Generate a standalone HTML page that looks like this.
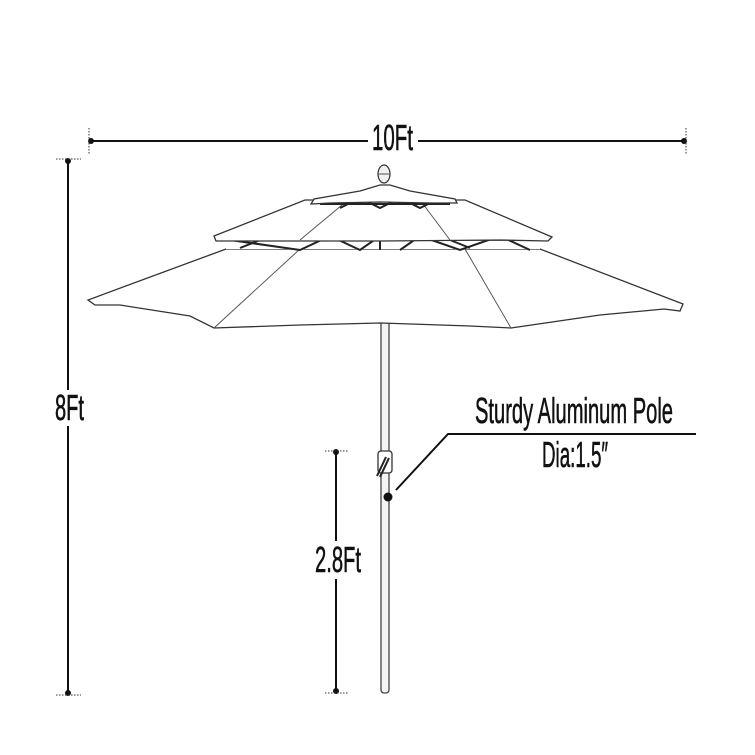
<!DOCTYPE html>
<html><head><meta charset="utf-8"><style>
html,body{margin:0;padding:0;background:#fff;}
svg{display:block;}
text{font-family:"Liberation Sans Narrow","Liberation Sans",sans-serif;fill:#111;stroke:#111;stroke-width:0.6;}
</style></head><body>
<svg width="755" height="755" viewBox="0 0 755 755" xmlns="http://www.w3.org/2000/svg">
<rect width="755" height="755" fill="#fff"/>
<!-- 10Ft dimension -->
<line x1="90" y1="141" x2="368" y2="141" stroke="#111" stroke-width="2"/>
<line x1="418" y1="141" x2="685" y2="141" stroke="#111" stroke-width="2"/>
<circle cx="91" cy="141" r="3" fill="#111"/><circle cx="684" cy="141" r="3" fill="#111"/>
<line x1="89" y1="128" x2="89" y2="154" stroke="#333" stroke-dasharray="1.5 1.5"/>
<line x1="686" y1="128" x2="686" y2="154" stroke="#333" stroke-dasharray="1.5 1.5"/>
<text x="372" y="150" font-size="36" textLength="41" lengthAdjust="spacingAndGlyphs">10Ft</text>
<!-- 8Ft dimension -->
<line x1="68" y1="160" x2="68" y2="390" stroke="#111" stroke-width="2"/>
<line x1="68" y1="426" x2="68" y2="694" stroke="#111" stroke-width="2"/>
<circle cx="68" cy="161" r="3" fill="#111"/><circle cx="68" cy="693" r="3" fill="#111"/>
<line x1="56" y1="159" x2="81" y2="159" stroke="#333" stroke-dasharray="1.5 1.5"/>
<line x1="56" y1="695" x2="81" y2="695" stroke="#333" stroke-dasharray="1.5 1.5"/>
<text x="55" y="420" font-size="36" textLength="29" lengthAdjust="spacingAndGlyphs">8Ft</text>
<!-- 2.8Ft dimension -->
<line x1="336" y1="451" x2="336" y2="541" stroke="#111" stroke-width="2"/>
<line x1="336" y1="579" x2="336" y2="692" stroke="#111" stroke-width="2"/>
<circle cx="336" cy="452" r="3" fill="#111"/><circle cx="336" cy="691" r="3" fill="#111"/>
<line x1="325" y1="451" x2="348" y2="451" stroke="#333" stroke-dasharray="1.5 1.5"/>
<line x1="325" y1="693" x2="348" y2="693" stroke="#333" stroke-dasharray="1.5 1.5"/>
<text x="315" y="572" font-size="36" textLength="46" lengthAdjust="spacingAndGlyphs">2.8Ft</text>
<!-- pole -->
<rect x="381" y="318" width="8" height="375" rx="3" fill="#f4f4f4" stroke="#444" stroke-width="1.3"/>
<rect x="378" y="451" width="14" height="22" rx="3" fill="#fff" stroke="#333" stroke-width="1.3"/>
<path d="M386 457 L377 476 M389 458 L380 477" stroke="#222" stroke-width="2"/>
<circle cx="388" cy="497" r="4.5" fill="#111"/>
<polyline points="396,490 448,434 696,434" fill="none" stroke="#111" stroke-width="2"/>
<text x="475" y="423" font-size="36" textLength="198" lengthAdjust="spacingAndGlyphs">Sturdy Aluminum Pole</text>
<text x="542" y="467" font-size="36" textLength="66" lengthAdjust="spacingAndGlyphs">Dia:1.5″</text>
<!-- canopy big -->
<path d="M226 249 L540 249 L683 304 L680 311 L664 309 L600 315 L511 328 L470 326 L380 323 L300 325 L214 328 L190 316 L120 305 L95 305 L88 300 Z" fill="#fff" stroke="#333" stroke-width="1.3"/>
<path d="M300 249 L214 328 M465 249 L511 328" stroke="#555" stroke-width="1"/>
<!-- struts between tier 2 and big -->
<rect x="226" y="236" width="314" height="13" fill="#fff"/>
<path d="M230 240 L300 250 L330 236 L360 250 L380 236 M380 236 L380 250 M400 250 L420 236 L460 250 L500 236 L530 250 M240 248 L270 236 M440 236 L470 248" stroke="#222" stroke-width="2" fill="none"/>
<line x1="226" y1="240" x2="540" y2="240" stroke="#222" stroke-width="1.5"/>
<!-- tier 2 -->
<path d="M305 200 L465 200 L552 237 L548 241 L500 240 L380 241 L270 241 L216 241 L214 236 Z" fill="#fff" stroke="#333" stroke-width="1.3"/>
<path d="M348 200 L300 240 M420 200 L450 240" stroke="#555" stroke-width="1"/>
<!-- struts tier top -->
<path d="M320 204 L450 204 M340 208 L360 198 L380 208 L400 198 L420 208 L440 198" stroke="#222" stroke-width="2" fill="none"/>
<!-- top tier -->
<path d="M360 191 L380 185 L390 185 L410 191 L455 199 L457 203 L430 203 L380 202 L330 203 L311 204 L314 199 Z" fill="#fff" stroke="#333" stroke-width="1.3"/>
<!-- finial -->
<ellipse cx="384" cy="174" rx="6" ry="9" fill="#f0f0f0" stroke="#333" stroke-width="1.2"/>
<line x1="378" y1="174" x2="390" y2="174" stroke="#555"/>
</svg>
</body></html>
